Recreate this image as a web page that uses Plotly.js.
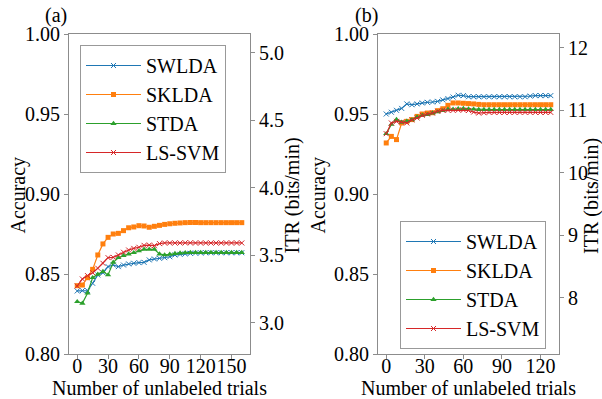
<!DOCTYPE html>
<html>
<head>
<meta charset="utf-8">
<script src="https://cdn.plot.ly/plotly-3.0.1.min.js"></script>
<style>html,body{margin:0;padding:0;background:#fff;}#chart{width:602px;height:399px;}</style>
</head>
<body>
<div id="chart"></div>
<script>
// Panel (a): number of unlabeled trials
const trialsA = [0,5,10,15,20,25,30,35,40,45,50,55,60,65,70,75,80,85,90,95,100,105,110,115,120,125,130,135,140,145,150,155,160];
const swldaA = [0.8394,0.8396,0.8396,0.8442,0.8494,0.8508,0.8546,0.8556,0.8546,0.8556,0.8563,0.8567,0.8571,0.8573,0.8588,0.8594,0.8598,0.8602,0.8608,0.8619,0.8623,0.8626,0.8629,0.8631,0.8632,0.8633,0.8633,0.8633,0.8633,0.8633,0.8633,0.8633,0.8633];
const skldaA = [0.8427,0.8431,0.8477,0.8529,0.8619,0.8688,0.8729,0.8750,0.8754,0.8771,0.8789,0.8794,0.8802,0.8800,0.8792,0.8798,0.8804,0.8810,0.8814,0.8817,0.8819,0.8821,0.8822,0.8822,0.8821,0.8821,0.8821,0.8821,0.8821,0.8821,0.8821,0.8821,0.8821];
const stdaA = [0.8327,0.8317,0.8380,0.8477,0.8498,0.8515,0.8494,0.8573,0.8602,0.8615,0.8625,0.8633,0.8644,0.8654,0.8654,0.8654,0.8625,0.8619,0.8623,0.8628,0.8631,0.8633,0.8634,0.8634,0.8634,0.8634,0.8634,0.8634,0.8634,0.8634,0.8634,0.8634,0.8634];
const lssvmA = [0.8425,0.8469,0.8490,0.8508,0.8536,0.8567,0.8602,0.8604,0.8619,0.8636,0.8650,0.8660,0.8667,0.8679,0.8681,0.8677,0.8690,0.8694,0.8694,0.8694,0.8694,0.8695,0.8695,0.8694,0.8694,0.8694,0.8694,0.8694,0.8694,0.8694,0.8694,0.8694,0.8694];

// Panel (b)
const trialsB = [0,4,8,12,16,20,24,28,32,36,40,44,48,52,56,60,64,68,72,76,80,84,88,92,96,100,104,108,112,116,120,124,128];
const swldaB = [0.9500,0.9511,0.9523,0.9535,0.9563,0.9558,0.9563,0.9569,0.9573,0.9575,0.9579,0.9588,0.9596,0.9606,0.9617,0.9615,0.9608,0.9608,0.9608,0.9608,0.9608,0.9608,0.9608,0.9608,0.9608,0.9608,0.9608,0.9608,0.9612,0.9615,0.9615,0.9615,0.9615];
const skldaB = [0.9319,0.9360,0.9340,0.9444,0.9454,0.9465,0.9485,0.9500,0.9506,0.9508,0.9521,0.9533,0.9554,0.9569,0.9569,0.9567,0.9565,0.9563,0.9560,0.9558,0.9558,0.9558,0.9558,0.9558,0.9558,0.9558,0.9558,0.9558,0.9558,0.9558,0.9558,0.9558,0.9558];
const stdaB = [0.9377,0.9435,0.9465,0.9448,0.9454,0.9463,0.9481,0.9492,0.9496,0.9506,0.9513,0.9521,0.9529,0.9529,0.9533,0.9534,0.9532,0.9530,0.9528,0.9528,0.9528,0.9528,0.9528,0.9528,0.9528,0.9528,0.9528,0.9528,0.9528,0.9528,0.9528,0.9528,0.9528];
const lssvmB = [0.9377,0.9444,0.9454,0.9450,0.9444,0.9463,0.9475,0.9492,0.9500,0.9506,0.9517,0.9523,0.9523,0.9523,0.9525,0.9525,0.9522,0.9512,0.9506,0.9508,0.9510,0.9510,0.9510,0.9510,0.9510,0.9510,0.9510,0.9510,0.9510,0.9510,0.9510,0.9510,0.9510];

// Tick labels
const accTicks = [0.80,0.85,0.90,0.95,1.00];
const itrTicksA = [3.0,3.5,4.0,4.5,5.0];
const itrTicksB = [8,9,10,11,12];
const xTicksA = [0,30,60,90,120,150];
const xTicksB = [0,30,60,90,120];
const names = ['SWLDA','SKLDA','STDA','LS-SVM'];
const colors = ['#1f77b4','#ff7f0e','#2ca02c','#d62728'];
const xTitleText = 'Number of unlabeled trials';
const accTitle = 'Accuracy';
const itrTitle = 'ITR (bits/min)';

const FONT = '"Liberation Serif", "Times New Roman", serif';
const FS = 20;
const AX = '#8c8c8c';

function markerFor(i){
  if (i===1) return {symbol:'square', size:5, color:colors[i]};
  if (i===2) return {symbol:'triangle-up', size:5.5, color:colors[i]};
  return {symbol:'x-thin', size:5, color:colors[i], line:{width:1, color:colors[i]}};
}

const traces = [];
[swldaA, skldaA, stdaA, lssvmA].forEach((ys,i)=>{
  traces.push({type:'scatter', mode:'lines+markers', x:trialsA, y:ys, name:names[i],
    xaxis:'x', yaxis:'y', legend:'legend', legendgroup:'a'+i,
    line:{color:colors[i], width:1.2}, marker:markerFor(i)});
});
[swldaB, skldaB, stdaB, lssvmB].forEach((ys,i)=>{
  traces.push({type:'scatter', mode:'lines+markers', x:trialsB, y:ys, name:names[i],
    xaxis:'x2', yaxis:'y3', legend:'legend2', legendgroup:'b'+i,
    line:{color:colors[i], width:1.2}, marker:markerFor(i)});
});
// empty traces so the right-hand ITR axes are created
traces.push({type:'scatter', x:[], y:[], xaxis:'x', yaxis:'y2', showlegend:false, hoverinfo:'skip'});
traces.push({type:'scatter', x:[], y:[], xaxis:'x2', yaxis:'y4', showlegend:false, hoverinfo:'skip'});

// plot area: x 69..559, y 34..354
const ML = 69, MR = 602-559, MT = 34, MB = 399-354;
const PW = 602-ML-MR, PH = 399-MT-MB;
const common = {showline:true, linecolor:AX, linewidth:1, ticks:'outside', ticklen:4, tickcolor:AX, tickangle:0,
  showgrid:false, zeroline:false, tickfont:{family:FONT, size:FS, color:'#000'}};

const legendStyle = (x,y)=>({x:x, y:y, xanchor:'left', yanchor:'top', xref:'paper', yref:'paper',
  bgcolor:'#fff', bordercolor:'#999', borderwidth:1, font:{family:FONT, size:FS, color:'#000'},
  tracegroupgap:0, itemwidth:55});

const px2x = p => (p-ML)/PW;
const py2y = p => (399-MB-p)/PH;

function ann(text, px, py, angle){
  return {text:text, x:px2x(px), y:py2y(py), xref:'paper', yref:'paper', showarrow:false,
    xanchor:'center', yanchor:'middle', textangle:angle||0, font:{family:FONT, size:FS, color:'#000'}};
}

const layout = {
  width:602, height:399, margin:{l:ML,r:MR,t:MT,b:MB}, paper_bgcolor:'#fff', plot_bgcolor:'#fff',
  font:{family:FONT, size:FS, color:'#000'},
  xaxis: Object.assign({}, common, {domain:[0, 181/PW], anchor:'y', range:[-8,168], tickvals:xTicksA, mirror:true, ticklabelstandoff:-10}),
  yaxis: Object.assign({}, common, {domain:[0,1], anchor:'x', range:[0.80,1.00], tickvals:accTicks, tickformat:'.2f'}),
  yaxis2: Object.assign({}, common, {overlaying:'y', side:'right', anchor:'x', range:[2.77,5.14], tickvals:itrTicksA, tickformat:'.1f'}),
  xaxis2: Object.assign({}, common, {domain:[(378-ML)/PW, 1], anchor:'y3', range:[-6.4,134.4], tickvals:xTicksB, mirror:true, ticklabelstandoff:-10}),
  yaxis3: Object.assign({}, common, {domain:[0,1], anchor:'x2', range:[0.80,1.00], tickvals:accTicks, tickformat:'.2f'}),
  yaxis4: Object.assign({}, common, {overlaying:'y3', side:'right', anchor:'x2', range:[7.10,12.22], tickvals:itrTicksB, tickformat:'d'}),
  legend: legendStyle(px2x(80), py2y(45)),
  legend2: legendStyle(px2x(400), py2y(221)),
  showlegend:true,
  annotations:[
    ann('(a)', 56, 15), ann('(b)', 366, 15),
    ann(xTitleText, 159.5, 388), ann(xTitleText, 468.5, 388),
    ann(accTitle, 17.5, 195, -90), ann(itrTitle, 291.5, 196, -90),
    ann(accTitle, 317.5, 195, -90), ann(itrTitle, 591, 196, -90)
  ]
};

Plotly.newPlot('chart', traces, layout, {staticPlot:true, displayModeBar:false});
</script>
</body>
</html>
